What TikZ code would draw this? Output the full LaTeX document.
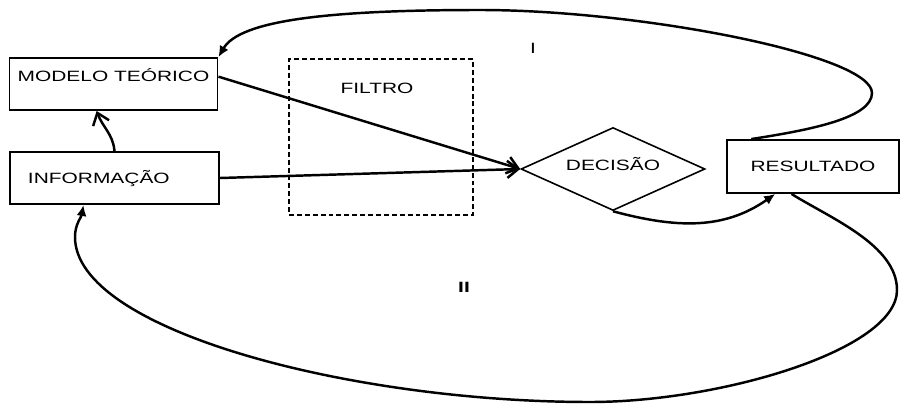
\documentclass[tikz,border=0pt]{standalone}
\usepackage{fontspec}
\setmainfont{Liberation Sans}[FakeStretch=1.4]
\usetikzlibrary{shapes.geometric, arrows.meta, positioning}

\begin{document}
\begin{tikzpicture}[
  font=\fontsize{8.5}{10}\selectfont,
  mbox/.style={draw, line width=1.1pt, minimum width=4.16cm, minimum height=1.04cm, inner sep=0pt, text height=6.1pt, text depth=0pt},
  flow/.style={line width=1.4pt, -{Straight Barb[length=2.2mm, width=3.4mm]}},
  loopback/.style={line width=1.4pt, -{Latex[length=2.2mm, width=2mm]}}
]
  \useasboundingbox (0,0) rectangle (18.04,-8.08);
  \node[mbox, text depth=9.1pt] (modelo) at (2.27,-1.68) {MODELO TEÓRICO};
  \node[mbox, minimum width=4.18cm, inner xsep=0.36cm, text width=3.46cm, align=left] (info) at (2.29,-3.56) {INFORMAÇÃO};
  \node[draw, line width=1.1pt, dash pattern=on 2.8pt off 1.7pt, minimum width=3.68cm, minimum height=3.12cm] (filtro) at (7.62,-2.74) {};
  \node (filtrotxt) at (7.54,-1.76) {FILTRO};
  \node[draw, diamond, aspect=2.2, line width=0.9pt, minimum width=3.68cm, minimum height=1.66cm, inner sep=0pt, text height=6.1pt, text depth=4.5pt] (decisao) at (12.26,-3.38) {DECISÃO\hspace{0.32cm}};
  \node[mbox, minimum width=3.44cm, minimum height=1.06cm] (resultado) at (16.26,-3.33) {RESULTADO};
  \node (lbI) at (10.66,-0.96) {I};
  \node[font=\fontsize{8.5}{10}\selectfont\bfseries] (lbII) at (9.28,-5.74) {II};

  \draw[flow] (info.north) to[out=95, in=-70] (modelo.238);
  \draw[flow] (modelo.4) -- (decisao.west);
  \draw[flow] (info.east) -- (decisao.west);
  \draw[loopback] (decisao.south) to[out=-15, in=-145] (resultado.216);
  % loop I
  \draw[loopback] (resultado.156) .. controls (16.2,-2.6) and (17.44,-2.36) .. (17.44,-1.86)
    .. controls (17.44,-1.1) and (12.8,-0.2) .. (9.6,-0.2)
    .. controls (6.6,-0.2) and (4.8,-0.4) .. (modelo.north east);
  % loop II
  \draw[loopback] (resultado.232) .. controls (16.6,-4.36) and (17.94,-4.9) .. (17.94,-5.8)
    .. controls (17.94,-7.0) and (14.4,-8.04) .. (11.8,-8.04)
    .. controls (7.0,-8.04) and (1.5,-6.6) .. (1.5,-4.74)
    to[out=90, in=-100] (info.221);
\end{tikzpicture}
\end{document}
